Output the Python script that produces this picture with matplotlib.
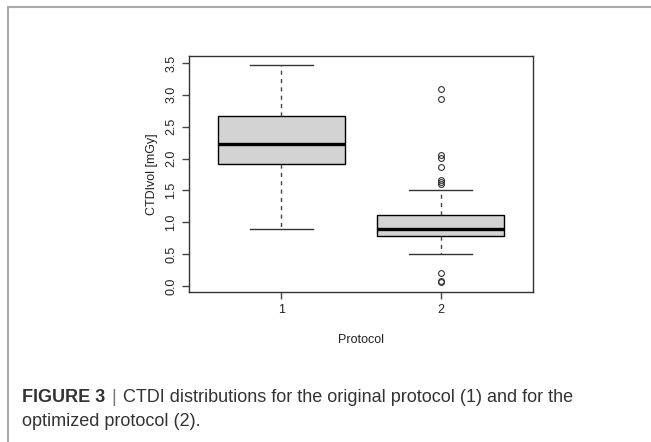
import matplotlib.pyplot as plt
from matplotlib.lines import Line2D

plt.rcParams['font.family'] = ['Liberation Sans', 'DejaVu Sans']

# box statistics (CTDIvol, mGy)
protocols = ['1', '2']
whisker_low = [0.89, 0.50]
q1 = [1.91, 0.785]
median = [2.23, 0.89]
q3 = [2.67, 1.11]
whisker_high = [3.47, 1.51]
outliers = [
    [],
    [3.09, 2.94, 2.06, 2.01, 1.87, 1.66, 1.63, 1.60, 0.21, 0.08, 0.06],
]

stats = []
for i in range(len(protocols)):
    stats.append({
        'whislo': whisker_low[i], 'q1': q1[i], 'med': median[i],
        'q3': q3[i], 'whishi': whisker_high[i], 'fliers': outliers[i],
        'label': protocols[i],
    })

fig = plt.figure(figsize=(6.51, 4.42), dpi=100)

# outer panel frame (left and top grey rules)
fig.add_artist(Line2D([8 / 651, 8 / 651], [0, 1 - 6.5 / 442], color='#aaaaaa', lw=1.5))
fig.add_artist(Line2D([8 / 651, 1], [1 - 6.5 / 442, 1 - 6.5 / 442], color='#aaaaaa', lw=1.5))

ax = fig.add_axes([189 / 651, 1 - 292 / 442, 344 / 651, 236 / 442])

ax.bxp(stats, positions=[1, 2], widths=0.8, patch_artist=True,
       boxprops=dict(facecolor='#d3d3d3', edgecolor='black', lw=1),
       medianprops=dict(color='black', lw=2.4),
       whiskerprops=dict(color='#444444', lw=1, linestyle=(0, (3, 3))),
       capprops=dict(color='#333333', lw=1),
       capwidths=0.4,
       flierprops=dict(marker='o', markersize=4.2, markerfacecolor='none',
                       markeredgecolor='#333333', markeredgewidth=0.8))

ax.set_xlim(0.42, 2.58)
ax.set_ylim(-0.094, 3.61)
ax.set_yticks([0.0, 0.5, 1.0, 1.5, 2.0, 2.5, 3.0, 3.5])
ax.set_yticklabels(['0.0', '0.5', '1.0', '1.5', '2.0', '2.5', '3.0', '3.5'],
                   rotation=90, va='center')
ax.set_xticks([1, 2])
ax.set_xticklabels(protocols)
ax.tick_params(labelsize=9, length=5, width=1, color='#444444',
               labelcolor='#222222', pad=3.5)
for s in ax.spines.values():
    s.set_color('#333333')
    s.set_linewidth(1)

ax.set_ylabel('CTDIvol [mGy]', fontsize=9, color='#222222', labelpad=5)
ax.set_xlabel('Protocol', fontsize=9, color='#222222', labelpad=13)

fig.text(22 / 651, 1 - 398 / 442, 'FIGURE 3', fontsize=13, fontweight='bold',
         color='#333333', va='center', ha='left')
fig.text(113.5 / 651, 1 - 398 / 442, '|', fontsize=13, color='#777777',
         va='center', ha='center')
fig.text(123 / 651, 1 - 398 / 442,
         'CTDI distributions for the original protocol (1) and for the',
         fontsize=13, color='#333333', va='center', ha='left')
fig.text(22 / 651, 1 - 421 / 442, 'optimized protocol (2).',
         fontsize=13, color='#333333', va='center', ha='left')

fig.savefig('out.png', dpi=100)
